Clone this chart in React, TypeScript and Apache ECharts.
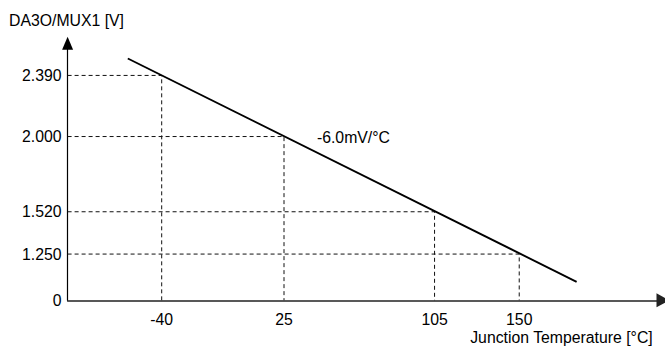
import React, { useEffect, useRef } from "react";
import * as echarts from "echarts";

// Axis extent (°C / V). The y axis is broken: its bottom end is labelled "0".
const xMin = -90;
const xMax = 226.4;
const yBottom = 0.955;
const yTop = 2.595;

// Reference points on the characteristic
const refTemps = [-40, 25, 105, 150];
const refVolts = [2.39, 2.0, 1.52, 1.25];

// Tick labels
const xTickValues = [-40, 25, 105, 150];
const yTickValues = [yBottom, 1.25, 1.52, 2.0, 2.39];
const yTickLabels = ["0", "1.250", "1.520", "2.000", "2.390"];

// Characteristic line end points [°C, V]
const lineTemps = [-58, 180.5];
const lineVolts = [2.498, 1.073];

const slopeText = "-6.0mV/°C";
const slopeAnchor = [42.5, 1.994];
const yTitle = "DA3O/MUX1 [V]";
const xTitle = "Junction Temperature [°C]";

const FONT = "'Liberation Sans', Arial, sans-serif";
const FS = 15.8;

export default function App() {
  const ref = useRef<HTMLDivElement>(null);
  useEffect(() => {
    if (!ref.current) return;
    const chart = echarts.init(ref.current, null, { renderer: "svg" });
    const guides = refTemps.map((t, i) => ({
      type: "line",
      silent: true,
      symbol: "none",
      lineStyle: { color: "#111", width: 1, type: [4, 3] },
      data: [
        [xMin, refVolts[i]],
        [t, refVolts[i]],
        [t, yBottom],
      ],
      z: 1,
    }));
    chart.setOption({
      animation: false,
      grid: {
        left: 67.6,
        right: 2,
        top: 43.3,
        bottom: 46.7,
        containLabel: false,
        outerBoundsMode: "none",
      },
      xAxis: {
        type: "value",
        min: xMin,
        max: xMax,
        splitLine: { show: false },
        axisTick: { show: false },
        axisLine: {
          show: true,
          onZero: false,
          symbol: ["none", "triangle"],
          symbolSize: [14, 13],
          lineStyle: { color: "#222", width: 1.5 },
        },
        axisLabel: {
          customValues: xTickValues,
          color: "#000",
          fontFamily: FONT,
          fontSize: FS,
          margin: 11,
        },
      },
      yAxis: {
        type: "value",
        min: yBottom,
        max: yTop,
        splitLine: { show: false },
        axisTick: { show: false },
        axisLine: {
          show: true,
          onZero: false,
          symbol: ["none", "triangle"],
          symbolSize: [11, 13],
          lineStyle: { color: "#000", width: 1.2 },
        },
        axisLabel: {
          customValues: yTickValues,
          formatter: (v: number) => {
            const idx = yTickValues.findIndex((t) => Math.abs(t - v) < 1e-6);
            return idx >= 0 ? yTickLabels[idx] : "";
          },
          color: "#000",
          fontFamily: FONT,
          fontSize: FS,
          margin: 6,
        },
      },
      series: [
        ...guides,
        {
          type: "line",
          silent: true,
          symbol: "none",
          lineStyle: { color: "#000", width: 1.9 },
          data: lineTemps.map((t, i) => [t, lineVolts[i]]),
          z: 3,
          markPoint: {
            silent: true,
            symbol: "circle",
            symbolSize: 0,
            data: [
              {
                coord: slopeAnchor,
                label: {
                  show: true,
                  position: "right",
                  distance: 0,
                  formatter: slopeText,
                  color: "#000",
                  fontFamily: FONT,
                  fontSize: FS,
                },
              },
            ],
          },
        },
      ],
      graphic: [
        {
          type: "text",
          left: 9,
          top: 12,
          style: {
            text: yTitle,
            fill: "#000",
            font: `${FS}px ${FONT}`,
          },
        },
        {
          type: "text",
          right: 12,
          top: 329,
          style: {
            text: xTitle,
            fill: "#000",
            font: `${FS}px ${FONT}`,
          },
        },
      ],
    });
    return () => chart.dispose();
  }, []);
  return (
    <div
      ref={ref}
      style={{ position: "fixed", left: 0, top: 0, width: 665, height: 347, background: "#fff" }}
    />
  );
}
